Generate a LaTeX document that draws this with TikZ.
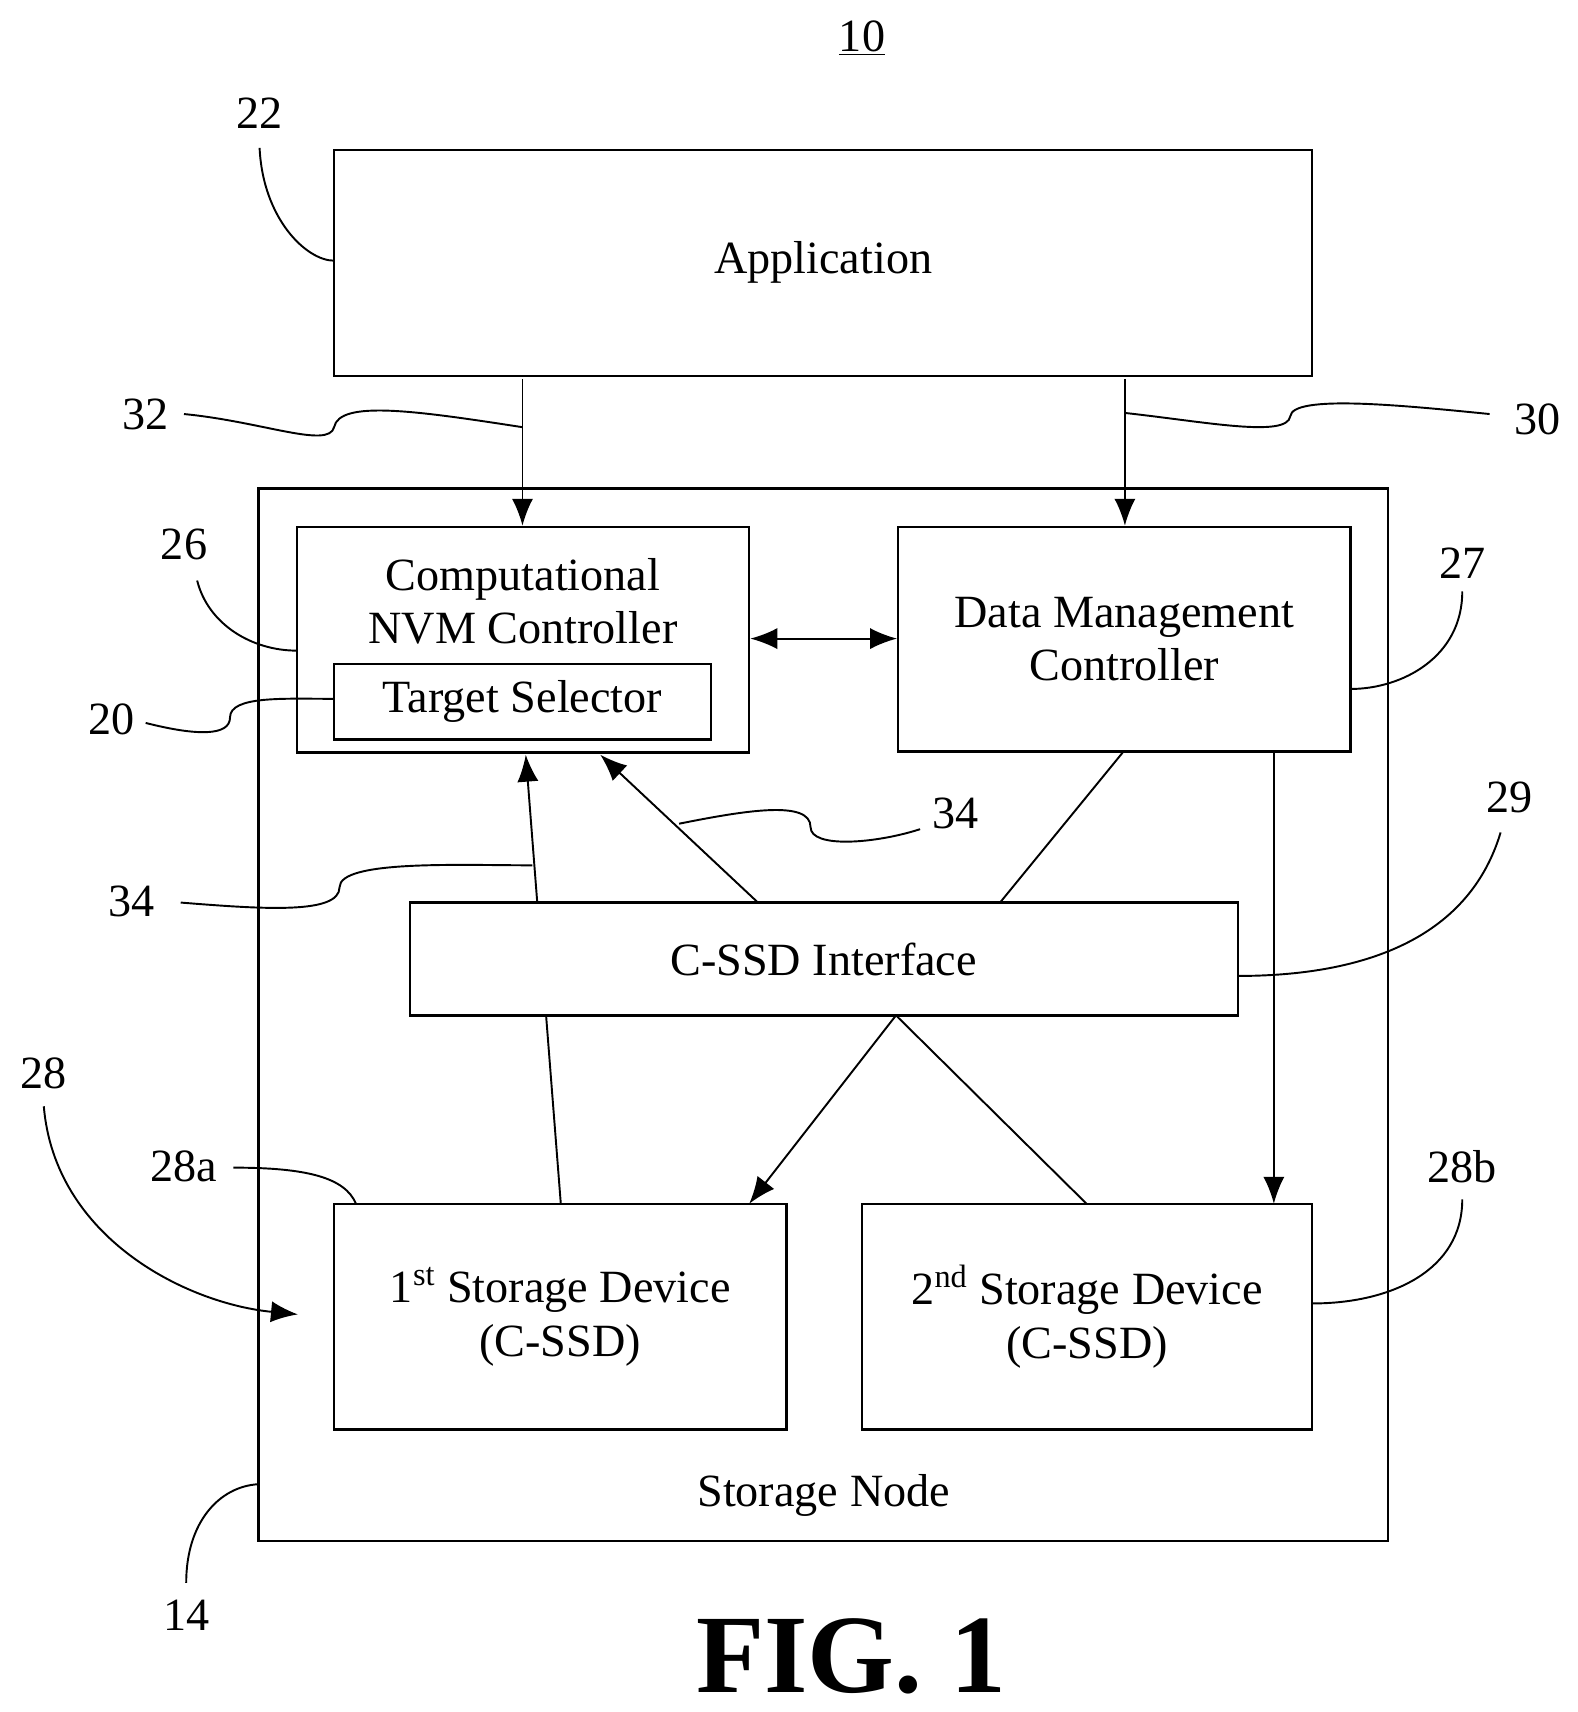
\documentclass[tikz,border=0pt]{standalone}
\usepackage{fontspec}
\setmainfont{Liberation Serif}
\usetikzlibrary{arrows.meta}
\begin{document}
\begin{tikzpicture}[x=0.02cm, y=-0.02cm, font=\fontsize{24}{28}\selectfont,
  box/.style={draw, line width=1.2pt, fill=white},
  conn/.style={line width=1pt},
  arr/.style={conn, -{Latex[length=14pt,width=11pt]}},
  lead/.style={line width=1pt}]
  \useasboundingbox (0,0) rectangle (1440,1563);
  %%% outer parts %%%
  \node[inner sep=1pt] (ten) at (787,35) {\underline{10}};
  \node[box, minimum width=893*0.02cm, minimum height=206*0.02cm] (app) at (751.5,240) {Application};
  \draw[line width=1.2pt] (236,446) rectangle (1267,1407);
  \coordinate (nodeL) at (236,1355);
  \node (sn) at (752,1365) {Storage Node};
  \node[font=\bfseries\fontsize{58}{66}\selectfont] (fig) at (777,1512) {FIG. 1};
  %%% lines behind the boxes %%%
  \draw[conn] (512,1099) -- (490.5,824);
  \draw[conn] (1025,687) -- (913,824);
  \draw[conn] (818,927) -- (992,1099);
  %%% controllers %%%
  \node[box, minimum width=413*0.02cm, minimum height=206*0.02cm] (nvm) at (477.5,584) {};
  \node (nvmt) at (477.5,549) [align=center] {Computational\\NVM Controller};
  \node[box, minimum width=344*0.02cm, minimum height=69*0.02cm, inner sep=0pt] (ts) at (477,640.5) {Target Selector};
  \node[box, minimum width=413*0.02cm, minimum height=205*0.02cm, align=center] (dm) at (1026.5,583.5) {Data Management\\Controller};
  %%% interface and devices %%%
  \node[box, minimum width=756*0.02cm, minimum height=103*0.02cm] (iface) at (752,875.5) {C-SSD Interface};
  \node[box, minimum width=413*0.02cm, minimum height=206*0.02cm, align=center] (ssd1) at (511.5,1202) {1\textsuperscript{st} Storage Device\\(C-SSD)};
  \node[box, minimum width=411*0.02cm, minimum height=206*0.02cm, align=center] (ssd2) at (992.5,1202) {2\textsuperscript{nd} Storage Device\\(C-SSD)};
  %%% arrows %%%
  \coordinate (a32) at (477,346);
  \coordinate (a30) at (1027,346);
  \draw[arr] (a32) -- (nvm.north -| a32);
  \draw[arr] (a30) -- (dm.north -| a30);
  \draw[conn, {Latex[length=14pt,width=11pt]}-{Latex[length=14pt,width=11pt]}] (nvm.east |- 0,583) -- (dm.west |- 0,583);
  \draw[arr] (692,824) -- (548,689);
  \draw[arr] (490.5,824) -- (480,689);
  \draw[arr] (818,927) -- (684,1099);
  \draw[arr] (1163,687) -- (1163,1099);
  %%% reference numerals %%%
  \node (n22) at (237,103) {22};
  \draw[lead] (237,135) .. controls (240,200) and (280,238) .. (305,238);
  \node (n32) at (133,378) {32};
  \draw[lead] (168,378) .. controls (240,385) and (300,410) .. (305,390) .. controls (310,365) and (380,375) .. (477,390);
  \node (n30) at (1404,383) {30};
  \draw[lead] (1360,378) .. controls (1280,370) and (1180,360) .. (1178,380) .. controls (1175,400) and (1100,385) .. (1027,377);
  \node (n26) at (168,497) {26};
  \draw[lead] (180,530) .. controls (190,570) and (230,594) .. (271,594);
  \node (n20) at (102,657) {20};
  \draw[lead] (133,660) .. controls (180,672) and (210,672) .. (210,655) .. controls (210,635) and (260,638) .. (305,638);
  \node (n27) at (1335,514) {27};
  \draw[lead] (1335,540) .. controls (1335,600) and (1280,629) .. (1233,629);
  \node (n29) at (1378,728) {29};
  \draw[lead] (1370,760) .. controls (1340,860) and (1240,891) .. (1130,891);
  \node (n34a) at (872,743) {34};
  \draw[lead] (840,757) .. controls (800,770) and (740,775) .. (740,755) .. controls (740,730) and (680,740) .. (620,752);
  \node (n34b) at (120,823) {34};
  \draw[lead] (165,824) .. controls (240,830) and (310,835) .. (310,810) .. controls (310,785) and (420,790) .. (486,790);
  \node (n28) at (40,980) {28};
  \draw[arr] (40,1010) .. controls (50,1130) and (170,1190) .. (272,1200);
  \node (n28a) at (168,1065) {28a};
  \draw[lead] (213,1066) .. controls (280,1066) and (315,1075) .. (325,1099);
  \node (n28b) at (1335,1065) {28b};
  \draw[lead] (1335,1095) .. controls (1335,1160) and (1270,1190) .. (1198,1190);
  \node (n14) at (170,1475) {14};
  \draw[lead] (170,1445) .. controls (170,1390) and (200,1357) .. (nodeL);
\end{tikzpicture}
\end{document}
